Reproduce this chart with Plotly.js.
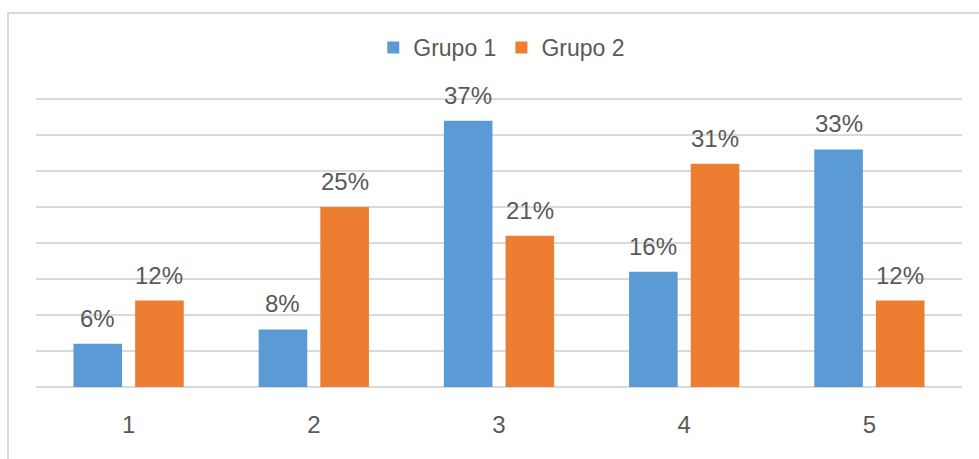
<!DOCTYPE html>
<html>
<head>
<meta charset="utf-8">
<script src="https://cdn.plot.ly/plotly-3.0.1.min.js"></script>
<style>
  html, body { margin: 0; padding: 0; background: #ffffff; }
  #chart { width: 979px; height: 459px; }
</style>
</head>
<body>
<div id="chart"></div>
<script>
// Categories and values (percent)
const categories = ['1', '2', '3', '4', '5'];
const grupo1 = [6, 8, 37, 16, 33];
const grupo2 = [12, 25, 21, 31, 12];
const seriesNames = ['Grupo 1', 'Grupo 2'];

const W = 979, H = 459;
const margin = { l: 36, r: 17, t: 98, b: 72, pad: 0 };
const textColor = '#595959';
const gridColor = '#d9d9d9';
const fontFamily = 'Liberation Sans, Arial, sans-serif';

const bargap = 0.334;
const bargroupgap = 0.212;
// horizontal offset of each bar's centre from its category centre
const slot = (1 - bargap) / 2;
const offsets = [-slot / 2, slot / 2];

const traces = [
  { type: 'bar', name: seriesNames[0], x: categories, y: grupo1,
    marker: { color: '#5B9BD5' }, hoverinfo: 'x+y' },
  { type: 'bar', name: seriesNames[1], x: categories, y: grupo2,
    marker: { color: '#ED7D31' }, hoverinfo: 'x+y' }
];

// value labels above every bar
const annotations = [];
[grupo1, grupo2].forEach((vals, s) => {
  vals.forEach((v, i) => {
    annotations.push({
      x: i + offsets[s], y: v, xref: 'x', yref: 'y',
      text: v + '%', showarrow: false,
      xanchor: 'center', yanchor: 'bottom', yshift: 10,
      font: { family: fontFamily, size: 24, color: textColor }
    });
  });
});

// light outer frame of the chart area
const pw = W - margin.l - margin.r, ph = H - margin.t - margin.b;
const toPX = px => (px - margin.l) / pw;
const toPY = py => (H - margin.b - py) / ph;
const shapes = [{
  type: 'rect', xref: 'paper', yref: 'paper',
  x0: toPX(8), x1: toPX(W + 20), y0: toPY(H + 20), y1: toPY(13),
  line: { color: '#d9d9d9', width: 2 }, fillcolor: 'rgba(0,0,0,0)', layer: 'below'
}];

const layout = {
  width: W, height: H,
  margin: margin,
  paper_bgcolor: '#ffffff', plot_bgcolor: '#ffffff',
  barmode: 'group', bargap: bargap, bargroupgap: bargroupgap,
  font: { family: fontFamily, size: 22, color: textColor },
  showlegend: true,
  legend: {
    orientation: 'h', x: 0.503, xanchor: 'center', y: toPY(26), yanchor: 'top',
    font: { family: fontFamily, size: 23, color: textColor },
    itemwidth: 30, traceorder: 'normal', bgcolor: 'rgba(0,0,0,0)'
  },
  xaxis: {
    type: 'category', range: [-0.5, 4.5],
    showgrid: false, showline: false, zeroline: false,
    ticks: '', ticklabelstandoff: 21,
    tickfont: { family: fontFamily, size: 24, color: textColor }
  },
  yaxis: {
    range: [0, 40.15], dtick: 5, tick0: 0,
    showgrid: true, gridcolor: gridColor, gridwidth: 1.5,
    zeroline: true, zerolinecolor: gridColor, zerolinewidth: 1.5,
    showticklabels: false, ticks: '', showline: false, fixedrange: true
  },
  annotations: annotations,
  shapes: shapes
};

Plotly.newPlot('chart', traces, layout, { displayModeBar: false, staticPlot: true });
</script>
</body>
</html>
